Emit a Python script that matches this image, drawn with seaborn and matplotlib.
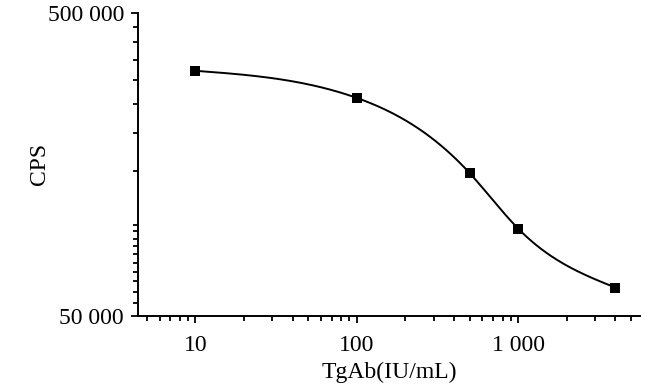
import numpy as np
import pandas as pd
import matplotlib
matplotlib.use("Agg")
import matplotlib.pyplot as plt
from matplotlib.ticker import FixedLocator, FuncFormatter, LogLocator, NullFormatter
import seaborn as sns

# Data
tgab = [10, 100, 500, 1000, 4000]          # TgAb (IU/mL)
cps = [322000, 262000, 148000, 97000, 62000]  # CPS
x_ticks = [10, 100, 1000]
y_ticks = [50000, 500000]

sns.set_theme(style="ticks")
plt.rcParams['font.family'] = ['Liberation Serif', 'DejaVu Serif']

df = pd.DataFrame({"TgAb": tgab, "CPS": cps})

# smooth connecting curve: natural cubic spline through the points in log-log space
lx = np.log10(np.array(tgab, dtype=float))
ly = np.log10(np.array(cps, dtype=float))
n = len(lx)
h = np.diff(lx)
A = np.zeros((n, n))
r = np.zeros(n)
A[0, 0] = 1
A[-1, -1] = 1
for i in range(1, n - 1):
    A[i, i - 1] = h[i - 1]
    A[i, i] = 2 * (h[i - 1] + h[i])
    A[i, i + 1] = h[i]
    r[i] = 6 * ((ly[i + 1] - ly[i]) / h[i] - (ly[i] - ly[i - 1]) / h[i - 1])
M = np.linalg.solve(A, r)
xs, ys = [], []
for i in range(n - 1):
    t = np.linspace(lx[i], lx[i + 1], 60)
    a = (lx[i + 1] - t) / h[i]
    b = (t - lx[i]) / h[i]
    y = (a * ly[i] + b * ly[i + 1]
         + ((a ** 3 - a) * M[i] + (b ** 3 - b) * M[i + 1]) * h[i] ** 2 / 6)
    xs.append(t)
    ys.append(y)
curve = pd.DataFrame({"TgAb": 10 ** np.concatenate(xs), "CPS": 10 ** np.concatenate(ys)})

fig = plt.figure(figsize=(6.5, 3.9), dpi=100)
ax = fig.add_axes([0.212, 0.190, 0.773, 0.777])

sns.lineplot(data=curve, x="TgAb", y="CPS", ax=ax, color="black", linewidth=1.4,
             sort=False, estimator=None)
sns.scatterplot(data=df, x="TgAb", y="CPS", ax=ax, marker="s", color="black",
                s=55, edgecolor="black", linewidth=0, zorder=5)

ax.set_xscale("log")
ax.set_yscale("log")
ax.set_xlim(4.4, 5700)
ax.set_ylim(50000, 500000)

fmt = FuncFormatter(lambda v, p: f"{int(round(v)):,}".replace(",", " "))
ax.xaxis.set_major_locator(FixedLocator(x_ticks))
ax.xaxis.set_major_formatter(fmt)
ax.xaxis.set_minor_locator(LogLocator(base=10, subs=np.arange(2, 10), numticks=50))
ax.xaxis.set_minor_formatter(NullFormatter())
ax.yaxis.set_major_locator(FixedLocator(y_ticks))
ax.yaxis.set_major_formatter(fmt)
y_minor = np.concatenate([np.arange(5.5, 10, 0.5) * 1e4, np.arange(1, 5, 0.5) * 1e5])
ax.yaxis.set_minor_locator(FixedLocator(y_minor))
ax.yaxis.set_minor_formatter(NullFormatter())

ax.tick_params(axis="both", which="major", direction="out", length=5, width=1.3,
               labelsize=17, color="black", labelcolor="black", pad=5)
ax.tick_params(axis="x", which="major", pad=9)
ax.tick_params(axis="x", which="minor", direction="out", length=3.5, width=1.3,
               color="black")
ax.tick_params(axis="y", which="minor", direction="out", length=3.5, width=1.3,
               color="black", left=True)

for s in ["top", "right"]:
    ax.spines[s].set_visible(False)
for s in ["left", "bottom"]:
    ax.spines[s].set_linewidth(1.4)
    ax.spines[s].set_color("black")

ax.set_xlabel("TgAb(IU/mL)", fontsize=17, color="black", labelpad=4)
ax.set_ylabel("CPS", fontsize=17, color="black", labelpad=-2)

fig.savefig("out.png", dpi=100, facecolor="white")
